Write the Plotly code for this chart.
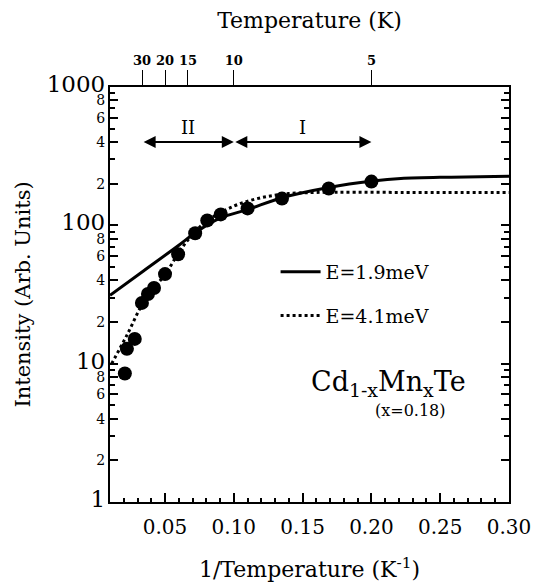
import math
import plotly.graph_objects as go

# ---- data ----
inv_T_points = [0.0208, 0.0223, 0.0280, 0.0332, 0.0376, 0.0420, 0.0500, 0.0595,
                0.0719, 0.0807, 0.0905, 0.1100, 0.1350, 0.1690, 0.2000]
intensity_points = [8.5, 12.8, 15.1, 27.5, 31.9, 35.2, 44.4, 61.8,
                    87.6, 108.6, 120.0, 132.6, 156.0, 184.6, 207.0]

fit1_x = [0.010, 0.0343, 0.061, 0.0717, 0.0904, 0.110, 0.1356, 0.1691, 0.201, 0.2214, 0.258, 0.300]
fit1_y = [31.2, 46.8, 73.0, 88.0, 113.0, 130.0, 159.0, 188.0, 209.0, 218.0, 223.0, 226.0]

fit2_x = [0.0112, 0.0222, 0.0331, 0.0428, 0.0513, 0.061, 0.0696, 0.0805, 0.0999, 0.117, 0.1356, 0.160, 0.2214, 0.300]
fit2_y = [10.0, 16.0, 26.4, 35.9, 46.0, 66.0, 84.8, 107.6, 137.5, 156.0, 168.0, 173.0, 173.0, 173.0]

fit1_name = "E=1.9meV"
fit2_name = "E=4.1meV"

x_ticks = [0.05, 0.10, 0.15, 0.20, 0.25, 0.30]
x_ticklabels = ["0.05", "0.10", "0.15", "0.20", "0.25", "0.30"]
temp_ticks_K = [30, 20, 15, 10, 5]

y_major = [1, 10, 100, 1000]
y_labeled_minor = [2, 4, 6, 8]

region_II_K = (30, 10)
region_I_K = (10, 5)
region_arrow_level = 400
region_label_level = 510

FONT = "DejaVu Serif, serif"


def f(size, **kw):
    return dict(family=FONT, size=size, color="black", **kw)


fig = go.Figure()

fig.add_trace(go.Scatter(x=fit1_x, y=fit1_y, mode="lines", name=fit1_name,
                         line=dict(color="black", width=3, shape="spline"),
                         legendgroup="a"))
fig.add_trace(go.Scatter(x=fit2_x, y=fit2_y, mode="lines", name=fit2_name,
                         line=dict(color="black", width=3, dash="dot", shape="spline"),
                         legendgroup="b"))
fig.add_trace(go.Scatter(x=inv_T_points, y=intensity_points, mode="markers",
                         marker=dict(color="black", size=14), showlegend=False))

# top temperature axis (dummy trace)
fig.add_trace(go.Scatter(x=[1.0 / t for t in temp_ticks_K], y=[None] * len(temp_ticks_K),
                         xaxis="x2", showlegend=False, hoverinfo="skip"))

# y tick values / labels
yvals, ytext = [], []
for d in y_major[:-1]:
    yvals.append(d)
    ytext.append('<span style="font-size:23px">%d</span>' % d)
    for m in y_labeled_minor:
        yvals.append(d * m)
        ytext.append('<span style="font-size:14px">%d</span>' % m)
yvals.append(y_major[-1])
ytext.append('<span style="font-size:23px">%d</span>' % y_major[-1])

fig.update_layout(
    width=533, height=585,
    margin=dict(l=110, r=24, t=87, b=83),
    paper_bgcolor="white", plot_bgcolor="white",
    font=f(18),
    xaxis=dict(range=[0.01, 0.30], tickvals=x_ticks, ticktext=x_ticklabels,
               ticks="inside", ticklen=9, tickwidth=1.5, tickcolor="black",
               minor=dict(dtick=0.01, ticks="inside", ticklen=4, tickwidth=1.5, tickcolor="black"),
               showline=True, linecolor="black", linewidth=2, mirror=True,
               showgrid=False, zeroline=False, tickfont=f(20), ticklabelstandoff=6,
               automargin=False,
               title=dict(text="1/Temperature (K<sup>-1</sup>)", font=f(22), standoff=24)),
    xaxis2=dict(overlaying="x", side="top", range=[0.01, 0.30],
                tickvals=[1.0 / t for t in temp_ticks_K],
                ticktext=["<b>%d</b>" % t for t in temp_ticks_K],
                ticks="outside", ticklen=16, tickwidth=1, tickcolor="black",
                showline=False, showgrid=False, zeroline=False,
                tickfont=f(13), automargin=False,
                title=dict(text="Temperature (K)", font=f(22), standoff=18)),
    yaxis=dict(type="log", range=[0, 3], tickvals=yvals, ticktext=ytext,
               ticks="inside", ticklen=8, tickwidth=1.5, tickcolor="black",
               minor=dict(dtick="D1", ticks="inside", ticklen=5, tickwidth=1.5, tickcolor="black", showgrid=False),
               showline=True, linecolor="black", linewidth=2, mirror="ticks",
               showgrid=False, zeroline=False, tickfont=f(14), automargin=False,
               title=dict(text="Intensity (Arb. Units)", font=f(21), standoff=10)),
    legend=dict(x=0.415, y=0.60, xanchor="left", yanchor="top",
                bgcolor="rgba(0,0,0,0)", font=f(19),
                tracegroupgap=16, itemwidth=40),
    showlegend=True,
)

ly = math.log10(region_arrow_level)
for (t1, t2) in (region_II_K, region_I_K):
    fig.add_annotation(x=1.0 / t2, y=ly, ax=1.0 / t1, ay=ly, xref="x", yref="y",
                       axref="x", ayref="y", text="", showarrow=True,
                       arrowhead=2, startarrowhead=2, arrowside="end+start",
                       arrowsize=1.2, startarrowsize=1.2, arrowwidth=2, arrowcolor="black")
fig.add_annotation(x=(1.0 / region_II_K[0] + 1.0 / region_II_K[1]) / 2, y=math.log10(region_label_level),
                   text="II", showarrow=False, font=f(18))
fig.add_annotation(x=(1.0 / region_I_K[0] + 1.0 / region_I_K[1]) / 2, y=math.log10(region_label_level),
                   text="I", showarrow=False, font=f(18))

fig.add_annotation(xref="paper", yref="paper", x=0.697, y=0.238, xanchor="center",
                   text="Cd<sub>1-x</sub>Mn<sub>x</sub>Te", showarrow=False, font=f(27))
fig.add_annotation(xref="paper", yref="paper", x=0.752, y=0.192, xanchor="center",
                   text="(x=0.18)", showarrow=False, font=f(16))

fig.write_html("out.html")
